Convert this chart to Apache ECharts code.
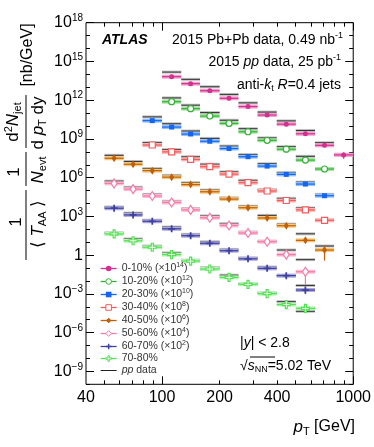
<!DOCTYPE html>
<html>
<head>
<meta charset="utf-8">
<script src="https://cdn.jsdelivr.net/npm/echarts@6/dist/echarts.min.js"></script>
<style>
html, body { margin: 0; padding: 0; background: #fff; }
#main { width: 374px; height: 447px; }
</style>
</head>
<body>
<div id="main"></div>
<script>
// pT bin edges [GeV]
var binEdges = [50, 63, 79, 100, 126, 158, 200, 251, 316, 398, 501, 631, 794, 1000];
// pp cross-section per bin [nb/GeV]
var ppXsec = [54, 18, 5.1, 1.5, 0.41, 0.11, 0.028, 0.0062, 0.0012, 2.5e-4, 4.5e-5, 5.1e-6, 6.5e-7];

var centNames = ['0-10%', '10-20%', '20-30%', '30-40%', '40-50%', '50-60%', '60-70%', '70-80%'];
var scaleExp = [14, 12, 10, 8, 6, 4, 2, 0];   // multiplied by 10^n
var firstBin = [3, 3, 2, 2, 0, 0, 0, 0];

// yields (already scaled)
var cent0010 = [6.6e13, 1.9e13, 5.4e12, 1.4e12, 3.2e11, 7.1e10, 1.4e10, 2.5e9, 3.2e8, 5.8e7];
var cent1020 = [7.6e11, 2.2e11, 5.9e10, 1.6e10, 3.6e9, 7.8e8, 1.6e8, 2.3e7, 4.7e6];
var cent2030 = [2.6e10, 8.3e9, 2.4e9, 6.6e8, 1.8e8, 4.2e7, 7.9e6, 1.8e6, 3.2e5, 4.0e4];
var cent3040 = [3.4e8, 1.0e8, 2.6e7, 7.1e6, 1.9e6, 4.1e5, 9.3e4, 1.7e4, 3.2e3, 5.0e2];
var cent4050 = [3.2e7, 1.1e7, 3.5e6, 1.1e6, 2.9e5, 8.1e4, 2.2e4, 4.7e3, 7.6e2, 1.9e2, 14, 2.5];
var cent5060 = [3.6e5, 1.3e5, 3.8e4, 1.2e4, 3.2e3, 7.9e2, 2.0e2, 52, 11, 1.1, 0.052];
var cent6070 = [4.3e3, 1.3e3, 4.2e2, 1.1e2, 32, 8.3, 2.2, 0.52, 0.095, 0.026, 0.002];
var cent7080 = [44, 13, 4.1, 1.1, 0.35, 0.085, 0.019, 0.0055, 0.00105, 1.5e-4, 7.6e-5];

// relative stat. errors
var err0010 = [0.03, 0.03, 0.03, 0.03, 0.04, 0.05, 0.06, 0.1, 0.15, 0.5];
var err1020 = [0.03, 0.03, 0.03, 0.03, 0.04, 0.05, 0.08, 0.1, 0.15];
var err2030 = [0.03, 0.03, 0.03, 0.03, 0.04, 0.05, 0.06, 0.1, 0.15, 0.2];
var err3040 = [0.03, 0.03, 0.03, 0.03, 0.04, 0.05, 0.08, 0.1, 0.15, 0.2];
var err4050 = [0.25, 0.2, 0.2, 0.2, 0.15, 0.15, 0.15, 0.15, 0.15, 0.2, 0.3, 0.85];
var err5060 = [0.05, 0.05, 0.05, 0.05, 0.05, 0.05, 0.08, 0.1, 0.15, 0.3, 0.9];
var err6070 = [0.2, 0.2, 0.2, 0.2, 0.2, 0.15, 0.15, 0.15, 0.2, 0.3, 0.5];
var err7080 = [0.05, 0.05, 0.05, 0.05, 0.05, 0.08, 0.1, 0.1, 0.15, 0.2, 0.3];

var centValues = [cent0010, cent1020, cent2030, cent3040, cent4050, cent5060, cent6070, cent7080];
var centErrors = [err0010, err1020, err2030, err3040, err4050, err5060, err6070, err7080];

var xLabels = [40, 100, 200, 400, 1000];
var xMajorTicks = [100, 1000];
var xMinorTicks = [50, 60, 70, 80, 90, 200, 300, 400, 500, 600, 700, 800, 900];
var yLabelExp = [-9, -6, -3, 0, 3, 6, 9, 12, 15, 18];

var FONT = '"Liberation Sans", Arial, sans-serif';
var crossPath = 'path://M3,0L5,0L5,3L8,3L8,5L5,5L5,8L3,8L3,5L0,5L0,3L3,3Z';
var looks = [
    {symbol: 'circle', size: 5, color: '#d4318e', band: '#f0a4cf', open: false},
    {symbol: 'circle', size: 6, color: '#36b236', band: '#a4e2a4', open: true},
    {symbol: 'rect', size: 5, color: '#1466f0', band: '#92c0ff', open: false},
    {symbol: 'rect', size: 6, color: '#f25c5c', band: '#ffb0b0', open: true},
    {symbol: 'diamond', size: [5, 8], color: '#c0600c', band: '#f6c878', open: false},
    {symbol: 'diamond', size: [6, 9], color: '#f57aa6', band: '#ffbcd4', open: true},
    {symbol: crossPath, size: 7, color: '#40409e', band: '#aaaae0', open: false},
    {symbol: crossPath, size: 8, color: '#55e055', band: '#b4f6b4', open: true}
];

// label values nudged a hair inside the axis extent so the edge ones are kept
var yTickMajor = yLabelExp.map(function (e) { return Math.pow(10, e) * 0.999999; });
var yTickMinor = [];
for (var d = -10; d <= 18; d++) {
    if (yLabelExp.indexOf(d) < 0) yTickMinor.push(Math.pow(10, d));
}

function powLabel(v) {
    var e = Math.round(Math.log10(v));
    if (e === 0) return '1';
    return '10{s|' + (e < 0 ? '\u2212' + (-e) : e) + '}';
}

/**
 * 渲染 bin 宽度 + 误差
 */
function renderBars(look) {
    return function (params, api) {
        var lo = api.value(0), hi = api.value(1), y = api.value(2), e = api.value(3);
        var pL = api.coord([lo, y]);
        var pR = api.coord([hi, y]);
        var xc = Math.sqrt(lo * hi);
        var pT = api.coord([xc, y * (1 + e)]);
        var pB = api.coord([xc, y * (1 - e)]);
        return {
            type: 'group',
            children: [
                {type: 'rect', shape: {x: pL[0], y: pL[1] - 2, width: pR[0] - pL[0], height: 4}, style: {fill: look.band}},
                {type: 'line', shape: {x1: pL[0], y1: pL[1], x2: pR[0], y2: pR[1]}, style: {stroke: look.color, lineWidth: 1.2}},
                {type: 'line', shape: {x1: pT[0], y1: pT[1], x2: pB[0], y2: pB[1]}, style: {stroke: look.color, lineWidth: 1.2}}
            ]
        };
    };
}

function renderPP(params, api) {
    var lo = api.value(0), hi = api.value(1), y = api.value(2);
    var pL = api.coord([lo, y]);
    var pR = api.coord([hi, y]);
    return {
        type: 'group',
        children: [
            {type: 'rect', shape: {x: pL[0], y: pL[1] - 1.5, width: pR[0] - pL[0], height: 3}, style: {fill: '#c2c2c2'}},
            {type: 'line', shape: {x1: pL[0], y1: pL[1], x2: pR[0], y2: pR[1]}, style: {stroke: '#333', lineWidth: 1}}
        ]
    };
}

var series = [];
var ppData = [];
var legendData = [];
centNames.forEach(function (name, s) {
    var look = looks[s];
    var barData = [];
    var markData = [];
    centValues[s].forEach(function (v, k) {
        var b = firstBin[s] + k;
        var lo = binEdges[b], hi = binEdges[b + 1];
        barData.push([lo, hi, v, centErrors[s][k]]);
        markData.push([Math.sqrt(lo * hi), v]);
        ppData.push([lo, hi, ppXsec[b] * Math.pow(10, scaleExp[s])]);
    });
    series.push({
        type: 'custom',
        name: name + ' bars',
        renderItem: renderBars(look),
        encode: {x: [0, 1], y: 2},
        data: barData,
        z: 3,
        silent: true
    });
    series.push({
        type: 'line',
        name: name,
        data: markData,
        symbol: look.symbol,
        symbolSize: look.size,
        showSymbol: true,
        lineStyle: {opacity: 0},
        itemStyle: look.open
            ? {color: '#fff', borderColor: look.color, borderWidth: 1.2}
            : {color: look.color, borderWidth: 0},
        z: 4
    });
    legendData.push({
        name: name,
        lineStyle: {color: look.color, width: 1.3, opacity: 1},
        itemStyle: {borderWidth: look.open ? 1 : 0}
    });
});
series.unshift({
    type: 'custom',
    name: 'pp lines',
    renderItem: renderPP,
    encode: {x: [0, 1], y: 2},
    data: ppData,
    z: 2,
    silent: true
});
series.push({
    type: 'line',
    name: 'pp data',
    data: [],
    symbol: 'none',
    lineStyle: {color: '#222', width: 1}
});
legendData.push({name: 'pp data', lineStyle: {color: '#222', width: 1, opacity: 1}, itemStyle: {opacity: 0}});

function xAxisDef(pos, ticks, len, showLabel) {
    return {
        type: 'log', logBase: 10, min: 40, max: 1000, position: pos,
        axisLine: {show: false},
        axisTick: {show: true, inside: true, length: len, customValues: ticks, lineStyle: {color: '#000', width: 1}},
        axisLabel: showLabel ? {
            show: true, customValues: xLabels, margin: 5, color: '#000', fontSize: 16, fontFamily: FONT,
            formatter: function (v) { return String(Math.round(v)); }
        } : {show: false},
        splitLine: {show: false},
        minorTick: {show: false}
    };
}

function yAxisDef(pos, ticks, len, showLabel) {
    return {
        type: 'log', logBase: 10, min: 1e-10, max: 1e18, position: pos,
        axisLine: {show: false},
        axisTick: {show: true, inside: true, length: len, customValues: ticks, lineStyle: {color: '#000', width: 1}},
        axisLabel: showLabel ? {
            show: true, customValues: yTickMajor, margin: 3, color: '#000', fontSize: 16, fontFamily: FONT,
            formatter: powLabel,
            rich: {s: {fontSize: 10, fontFamily: FONT, color: '#000', padding: [0, 0, 9, 0]}}
        } : {show: false},
        splitLine: {show: false},
        minorTick: {show: false}
    };
}

var richText = {
    i: {fontStyle: 'italic', fontSize: 14, fontFamily: FONT, fill: '#000'},
    s: {fontSize: 9, fontFamily: FONT, padding: [0, 0, 8, 0], fill: '#000'},
    b: {fontSize: 9, fontFamily: FONT, padding: [7, 0, 0, 0], fill: '#000'}
};
var richTitle = {
    i: {fontStyle: 'italic', fontSize: 17, fontFamily: FONT, fill: '#000'},
    s: {fontSize: 11, fontFamily: FONT, padding: [0, 0, 9, 0], fill: '#000'},
    b: {fontSize: 11, fontFamily: FONT, padding: [9, 0, 0, 0], fill: '#000'}
};

function txt(x, y, text, size, align, rich, extraFont) {
    return {
        type: 'text', x: x, y: y, silent: true,
        style: {
            text: text, font: (extraFont || '') + size + 'px ' + FONT, fill: '#000',
            align: align, verticalAlign: 'middle', rich: rich
        }
    };
}

var chart = echarts.init(document.getElementById('main'), null, {renderer: 'canvas'});
chart.setOption({
    animation: false,
    backgroundColor: '#fff',
    grid: {left: 86, right: 19.5, top: 22.7, bottom: 62.7, show: true, borderColor: '#000', borderWidth: 1, backgroundColor: 'transparent'},
    xAxis: [
        xAxisDef('bottom', xMajorTicks, 8, true),
        xAxisDef('bottom', xMinorTicks, 4, false),
        xAxisDef('top', xMajorTicks, 8, false),
        xAxisDef('top', xMinorTicks, 4, false)
    ],
    yAxis: [
        yAxisDef('left', yTickMajor, 8, true),
        yAxisDef('left', yTickMinor, 4, false),
        yAxisDef('right', yTickMajor, 8, false),
        yAxisDef('right', yTickMinor, 4, false)
    ],
    legend: {
        orient: 'vertical', left: 100, top: 262, padding: 0, itemWidth: 16, itemHeight: 7, itemGap: 1,
        data: legendData,
        textStyle: {
            fontSize: 10.5, color: '#333', fontFamily: FONT, lineHeight: 10,
            rich: {
                s: {fontSize: 7, color: '#333', padding: [0, 0, 6, 0]},
                i: {fontSize: 10.5, color: '#333', fontStyle: 'italic'}
            }
        },
        formatter: function (name) {
            var s = centNames.indexOf(name);
            if (s < 0) return '{i|pp} data';
            if (scaleExp[s] === 0) return name;
            return name + ' (\u00d710{s|' + scaleExp[s] + '})';
        }
    },
    graphic: [
        txt(102, 40, 'ATLAS', 14, 'left', null, 'italic bold '),
        txt(343, 40, '2015 Pb+Pb data, 0.49 nb{s|-1}', 14, 'right', richText),
        txt(341, 62, '2015 {i|pp} data, 25 pb{s|-1}', 14, 'right', richText),
        txt(341, 85, 'anti-{i|k}{b|t} {i|R}=0.4 jets', 14, 'right', richText),
        txt(240, 343, '|{i|y}| < 2.8', 14, 'left', richText),
        txt(240, 366, '\u221a{i|s}{b|NN}=5.02 TeV', 14, 'left', richText),
        {type: 'line', silent: true, shape: {x1: 250, y1: 357, x2: 275, y2: 357}, style: {stroke: '#000', lineWidth: 1}},
        txt(355, 427, '{i|p}{b|T} [GeV]', 16, 'right', richTitle),
        {
            type: 'group', x: 0, y: 400, rotation: Math.PI / 2, silent: true,
            children: [
                txt(178, 16, '1', 17, 'center'),
                {type: 'line', shape: {x1: 140, y1: 26, x2: 210, y2: 26}, style: {stroke: '#000', lineWidth: 1}},
                txt(176, 38, '\u27e8 {i|T}{b|AA} \u27e9', 17, 'center', richTitle),
                txt(228, 14, '1', 17, 'center'),
                {type: 'line', shape: {x1: 214, y1: 26, x2: 248, y2: 26}, style: {stroke: '#000', lineWidth: 1}},
                txt(230, 38, '{i|N}{b|evt}', 17, 'center', richTitle),
                txt(278, 13, 'd{s|2}{i|N}{b|jet}', 17, 'center', richTitle),
                {type: 'line', shape: {x1: 252, y1: 26, x2: 305, y2: 26}, style: {stroke: '#000', lineWidth: 1}},
                txt(277, 38, 'd {i|p}{b|T} dy', 17, 'center', richTitle),
                txt(345, 28, '[nb/GeV]', 16, 'center')
            ]
        }
    ],
    series: series
});
</script>
</body>
</html>
